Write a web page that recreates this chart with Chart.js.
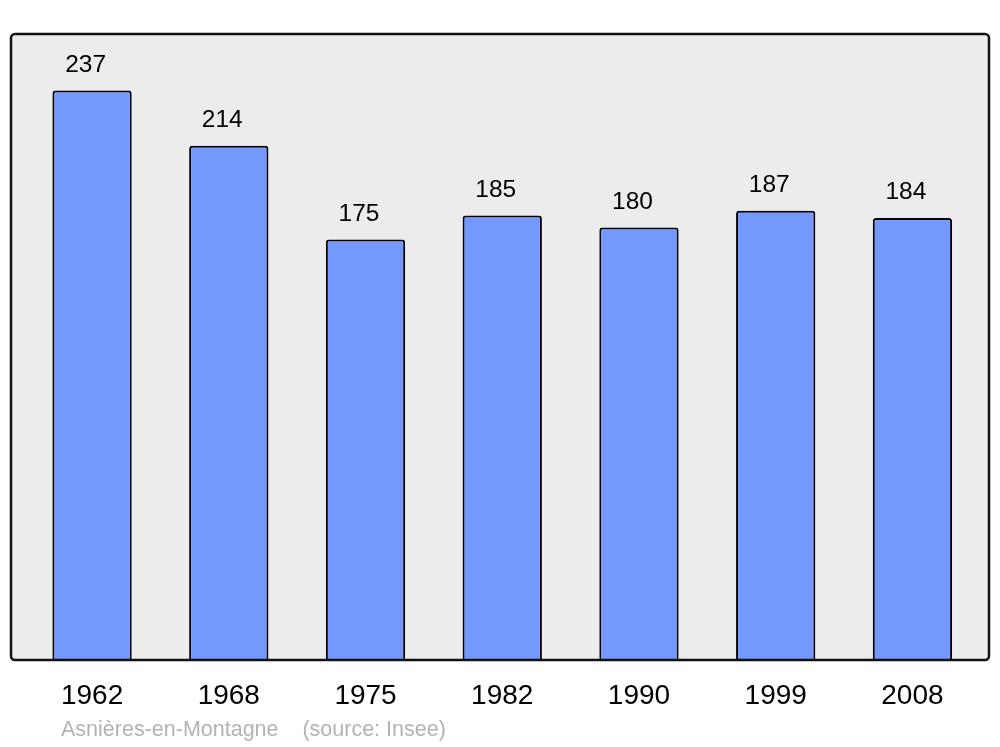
<!DOCTYPE html>
<html>
<head>
<meta charset="utf-8">
<script src="https://cdn.jsdelivr.net/npm/chart.js@4/dist/chart.umd.min.js"></script>
<style>
  html, body { margin: 0; padding: 0; background: #ffffff; }
  #wrap { width: 1000px; height: 747px; }
</style>
</head>
<body>
<div id="wrap"><canvas id="chartPop"></canvas></div>
<script>
// Population data (Insee)
const years = ['1962', '1968', '1975', '1982', '1990', '1999', '2008'];
const population = [237, 214, 175, 185, 180, 187, 184];
const sourceText = 'Asnières-en-Montagne    (source: Insee)';

Chart.defaults.font.family = "'Liberation Sans', Arial, sans-serif";
Chart.defaults.color = '#000000';

// Grey panel with black frame behind the bars
const framePlugin = {
    id: 'frame',
    beforeDatasetsDraw(chart) {
        const c = chart.ctx;
        c.save();
        c.beginPath();
        c.roundRect(11, 34, 978, 626, 4);
        c.fillStyle = '#ececec';
        c.fill();
        c.restore();
    },
    afterDatasetsDraw(chart) {
        const c = chart.ctx;
        c.save();
        c.beginPath();
        c.roundRect(11, 34, 978, 626, 4);
        c.lineWidth = 2.5;
        c.strokeStyle = '#111111';
        c.stroke();
        c.restore();
    }
};

// Values written above each bar, plus the source line
const labelPlugin = {
    id: 'valueLabels',
    afterDraw(chart) {
        const c = chart.ctx;
        const meta = chart.getDatasetMeta(0);
        c.save();
        c.font = "24.5px 'Liberation Sans', Arial, sans-serif";
        c.fillStyle = '#000000';
        c.textAlign = 'center';
        c.textBaseline = 'middle';
        meta.data.forEach((bar, i) => {
            c.fillText(String(population[i]), bar.x - 6.5, bar.y - 25.5);
        });
        c.font = "21.5px 'Liberation Sans', Arial, sans-serif";
        c.fillStyle = '#b3b3b3';
        c.textAlign = 'left';
        c.fillText(sourceText, 61, 730);
        c.restore();
    }
};

new Chart(document.getElementById('chartPop'), {
    type: 'bar',
    data: {
        labels: years,
        datasets: [{
            data: population,
            backgroundColor: '#7399ff',
            borderColor: '#000000',
            borderWidth: 2,
            borderRadius: { topLeft: 3, topRight: 3 },
            borderSkipped: 'bottom',
            barPercentage: 0.58,
            categoryPercentage: 1.0
        }]
    },
    options: {
        responsive: true,
        maintainAspectRatio: false,
        animation: false,
        layout: {
            padding: { top: 34, left: 23.7, right: 19.2, bottom: 15 }
        },
        plugins: {
            legend: { display: false },
            tooltip: { enabled: false }
        },
        scales: {
            x: {
                grid: { display: false, drawTicks: false },
                border: { display: false },
                ticks: {
                    font: { size: 28 },
                    padding: 19,
                    color: '#000000'
                }
            },
            y: {
                display: false,
                min: 0,
                max: 260.5
            }
        }
    },
    plugins: [framePlugin, labelPlugin]
});
</script>
</body>
</html>
